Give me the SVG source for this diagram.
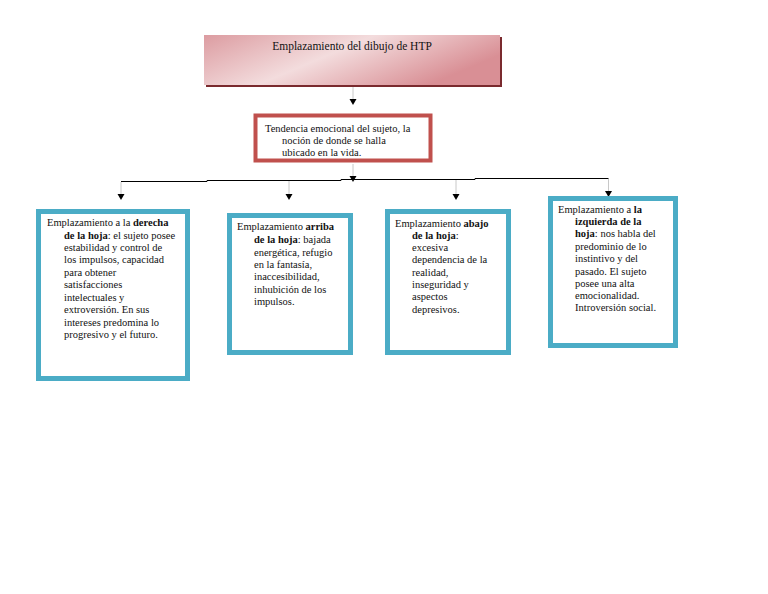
<svg xmlns="http://www.w3.org/2000/svg" width="768" height="594" viewBox="0 0 768 594">
<defs>
<linearGradient id="pinkGrad" x1="0" y1="0" x2="1" y2="0.4">
<stop offset="0" stop-color="#dc9ca1"/>
<stop offset="0.5" stop-color="#f3dcdd"/>
<stop offset="1" stop-color="#d98f95"/>
</linearGradient>
<style>
text{font-family:"Liberation Serif","Times New Roman",serif;fill:#111;}
.t{font-size:10.5px;}
.b{font-weight:bold;}
.blue{fill:#fff;stroke:#4bacc6;stroke-width:5;}
.drop{stroke:#c8c8c8;stroke-width:1;fill:none;}
.h{stroke:#000;stroke-width:1;fill:none;}
.ah{fill:#000;}
</style>
</defs>
<rect width="768" height="594" fill="#fff"/>

<g id="connectors">
<line class="drop" x1="353" y1="87" x2="353" y2="99"/>
<path class="ah" d="M349.5,99 L356.5,99 L353,105 Z"/>
<line class="drop" x1="353" y1="164" x2="353" y2="176"/>
<path class="ah" d="M349.5,176 L356.5,176 L353,182 Z"/>
<path class="h" d="M121,181.5 H207 V180.5 H341 V179.5 H475 V178.5 H608.5"/>
<line class="drop" x1="121" y1="182" x2="121" y2="194"/>
<path class="ah" d="M117.5,194 L124.5,194 L121,200 Z"/>
<line class="drop" x1="289" y1="181" x2="289" y2="194"/>
<path class="ah" d="M285.5,194 L292.5,194 L289,200 Z"/>
<line class="drop" x1="456" y1="180" x2="456" y2="194"/>
<path class="ah" d="M452.5,194 L459.5,194 L456,200 Z"/>
<line class="drop" x1="608.5" y1="179" x2="608.5" y2="191"/>
<path class="ah" d="M605,191 L612,191 L608.5,197 Z"/>
</g>

<g id="title">
<rect x="206" y="37" width="296" height="50" fill="#7a2a2e"/>
<rect x="204" y="35" width="296" height="50" fill="url(#pinkGrad)"/>
<text x="352" y="50" font-size="11.5" text-anchor="middle">Emplazamiento del dibujo de HTP</text>
</g>

<g id="tendencia">
<rect x="255.5" y="115.5" width="175" height="45" fill="#fff" stroke="#c0504d" stroke-width="4"/>
<text class="t"><tspan x="265" y="132">Tendencia emocional del sujeto, la</tspan><tspan x="282" y="144">noción de donde se halla</tspan><tspan x="282" y="156">ubicado en la vida.</tspan></text>
</g>

<g id="derecha">
<rect class="blue" x="38.5" y="211.5" width="149" height="167"/>
<text class="t">
<tspan x="47" y="226">Emplazamiento a la <tspan class="b">derecha</tspan></tspan>
<tspan x="64" y="238.5"><tspan class="b">de la hoja</tspan>: el sujeto posee</tspan>
<tspan x="64" y="251">estabilidad y control de</tspan>
<tspan x="64" y="263">los impulsos, capacidad</tspan>
<tspan x="64" y="275.5">para obtener</tspan>
<tspan x="64" y="288">satisfacciones</tspan>
<tspan x="64" y="300.5">intelectuales y</tspan>
<tspan x="64" y="313">extroversión. En sus</tspan>
<tspan x="64" y="325.5">intereses predomina lo</tspan>
<tspan x="64" y="338">progresivo y el futuro.</tspan>
</text>
</g>

<g id="arriba">
<rect class="blue" x="229.5" y="215.5" width="121" height="137"/>
<text class="t">
<tspan x="237" y="229.5">Emplazamiento <tspan class="b">arriba</tspan></tspan>
<tspan x="254" y="243"><tspan class="b">de la hoja</tspan>: bajada</tspan>
<tspan x="254" y="255.5">energética, refugio</tspan>
<tspan x="254" y="267.5">en la fantasía,</tspan>
<tspan x="254" y="280">inaccesibilidad,</tspan>
<tspan x="254" y="292.5">inhubición de los</tspan>
<tspan x="254" y="304.5">impulsos.</tspan>
</text>
</g>

<g id="abajo">
<rect class="blue" x="387.5" y="211.5" width="121" height="141"/>
<text class="t">
<tspan x="395" y="226.5">Emplazamiento <tspan class="b">abajo</tspan></tspan>
<tspan x="412" y="238.5"><tspan class="b">de la hoja</tspan>:</tspan>
<tspan x="412" y="251">excesiva</tspan>
<tspan x="412" y="263">dependencia de la</tspan>
<tspan x="412" y="275.5">realidad,</tspan>
<tspan x="412" y="288">inseguridad y</tspan>
<tspan x="412" y="300">aspectos</tspan>
<tspan x="412" y="312.5">depresivos.</tspan>
</text>
</g>

<g id="izquierda">
<rect class="blue" x="550.5" y="198.5" width="125" height="147"/>
<text class="t">
<tspan x="558" y="212.5">Emplazamiento a <tspan class="b">la</tspan></tspan>
<tspan x="575" y="224.5" class="b">izquierda de la</tspan>
<tspan x="575" y="237"><tspan class="b">hoja</tspan>: nos habla del</tspan>
<tspan x="575" y="249.5">predominio de lo</tspan>
<tspan x="575" y="262">instintivo y del</tspan>
<tspan x="575" y="274.5">pasado. El sujeto</tspan>
<tspan x="575" y="286.5">posee una alta</tspan>
<tspan x="575" y="299">emocionalidad.</tspan>
<tspan x="575" y="311">Introversión social.</tspan>
</text>
</g>
</svg>
